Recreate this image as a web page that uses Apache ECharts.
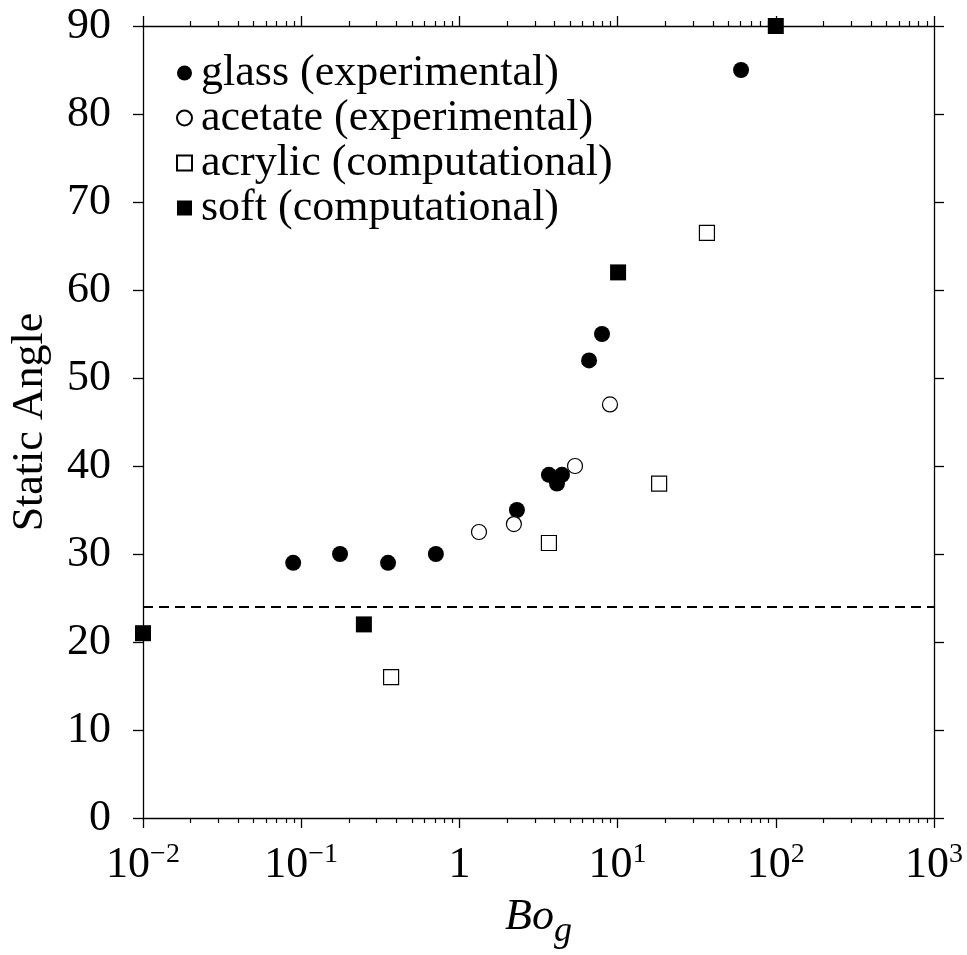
<!DOCTYPE html>
<html>
<head>
<meta charset="utf-8">
<title>Static Angle vs Bo_g</title>
<script src="https://cdn.jsdelivr.net/npm/echarts@6/dist/echarts.min.js"></script>
<style>
  html, body { margin: 0; padding: 0; background: #fff; }
  #chart { width: 967px; height: 955px; }
</style>
</head>
<body>
<div id="chart"></div>
<script>
// data
var glassBo = [0.089, 0.176, 0.354, 0.71, 2.31, 3.68, 4.14, 4.45, 6.6, 7.97, 60.3];
var glassAngle = [29, 30, 29, 30, 35, 39, 38, 39, 52, 55, 85];

var acetateBo = [1.33, 2.21, 5.38, 8.95];
var acetateAngle = [32.5, 33.4, 40, 47];

var acrylicBo = [0.37, 3.68, 18.3, 36.7];
var acrylicAngle = [16, 31.25, 38, 66.5];

var softBo = [0.01, 0.249, 10.07, 100];
var softAngle = [21, 22, 62, 90];

var refAngle = 24; // dashed line

var seriesNames = ['glass (experimental)', 'acetate (experimental)', 'acrylic (computational)', 'soft (computational)'];

var FONT = '"Liberation Serif", "Times New Roman", serif';

// minor ticks 2..9 of every decade (in log10 units)
var minorTicks = [];
for (var d = -2; d < 3; d++) {
  for (var k = 2; k <= 9; k++) minorTicks.push(Math.log10(k) + d);
}

function pairs(xs, ys) {
  var out = [];
  for (var i = 0; i < xs.length; i++) out.push([xs[i], ys[i]]);
  return out;
}

var black = '#000';
var axisLine = { show: true, onZero: false, lineStyle: { color: black, width: 1.3 } };
var noLine = { show: false, onZero: false };

var chart = echarts.init(document.getElementById('chart'));

var option = {
  animation: false,
  backgroundColor: '#fff',
  grid: { left: 143, right: 33, top: 26, bottom: 137 },
  legend: {
    orient: 'vertical',
    left: 171,
    top: 46,
    itemWidth: 15,
    itemHeight: 15,
    itemGap: 1,
    selectedMode: false,
    textStyle: { fontFamily: FONT, fontSize: 44, lineHeight: 44, color: black, padding: [0, 0, 0, 4] },
    data: [
      { name: seriesNames[0], icon: 'circle' },
      { name: seriesNames[1], icon: 'circle' },
      { name: seriesNames[2], icon: 'rect' },
      { name: seriesNames[3], icon: 'rect' }
    ]
  },
  xAxis: [
    {
      type: 'log', logBase: 10, min: 0.01, max: 1000, interval: 1,
      position: 'bottom',
      name: '{b|Bo}{g|g}',
      nameLocation: 'middle',
      nameGap: 77,
      nameTextStyle: {
        rich: {
          b: { fontFamily: FONT, fontStyle: 'italic', fontSize: 44, lineHeight: 44, verticalAlign: 'top', color: black },
          g: { fontFamily: FONT, fontStyle: 'italic', fontSize: 36, lineHeight: 36, verticalAlign: 'top', padding: [19, 0, 0, 0], color: black }
        }
      },
      axisLine: axisLine,
      axisTick: { show: true, inside: false, length: 10, lineStyle: { color: black, width: 1.3 } },
      splitLine: { show: false },
      axisLabel: {
        margin: 23,
        formatter: function (v) {
          var e = Math.round(Math.log10(v));
          if (e === 0) return '{n|1}';
          return '{n|10}{s|' + (e < 0 ? '\u2212' + (-e) : e) + '}';
        },
        rich: {
          n: { fontFamily: FONT, fontSize: 44, lineHeight: 44, verticalAlign: 'top', padding: [2, 0, 0, 0], color: black },
          s: { fontFamily: FONT, fontSize: 28, lineHeight: 28, verticalAlign: 'top', color: black }
        }
      }
    },
    {
      type: 'value', min: -2, max: 3,
      position: 'bottom',
      axisLine: noLine,
      axisTick: { show: true, inside: false, length: 5, customValues: minorTicks, lineStyle: { color: black, width: 1.2 } },
      axisLabel: { show: false },
      splitLine: { show: false }
    },
    {
      type: 'log', logBase: 10, min: 0.01, max: 1000, interval: 1,
      position: 'top',
      axisLine: axisLine,
      axisTick: { show: true, inside: false, length: 10, lineStyle: { color: black, width: 1.3 } },
      axisLabel: { show: false },
      splitLine: { show: false }
    },
    {
      type: 'value', min: -2, max: 3,
      position: 'top',
      axisLine: noLine,
      axisTick: { show: true, inside: false, length: 5, customValues: minorTicks, lineStyle: { color: black, width: 1.2 } },
      axisLabel: { show: false },
      splitLine: { show: false }
    }
  ],
  yAxis: [
    {
      type: 'value', min: 0, max: 90, interval: 10,
      position: 'left',
      name: 'Static Angle',
      nameLocation: 'middle',
      nameGap: 91,
      nameTextStyle: { fontFamily: FONT, fontSize: 44, lineHeight: 44, color: black },
      axisLine: axisLine,
      axisTick: { show: true, inside: false, length: 10, lineStyle: { color: black, width: 1.3 } },
      axisLabel: { margin: 32, fontFamily: FONT, fontSize: 44, color: black },
      splitLine: { show: false }
    },
    {
      type: 'value', min: 0, max: 90, interval: 10,
      position: 'right',
      axisLine: axisLine,
      axisTick: { show: true, inside: false, length: 10, lineStyle: { color: black, width: 1.3 } },
      axisLabel: { show: false },
      splitLine: { show: false }
    }
  ],
  series: [
    {
      name: seriesNames[0], type: 'scatter', xAxisIndex: 0, yAxisIndex: 0,
      symbol: 'circle', symbolSize: 16, clip: false,
      itemStyle: { color: black, opacity: 1 },
      data: pairs(glassBo, glassAngle),
      markLine: {
        silent: true, symbol: 'none', label: { show: false },
        lineStyle: { color: black, width: 1.8, type: [10, 6], opacity: 1 },
        data: [{ yAxis: refAngle }]
      }
    },
    {
      name: seriesNames[1], type: 'scatter', xAxisIndex: 0, yAxisIndex: 0,
      symbol: 'circle', symbolSize: 15, clip: false,
      itemStyle: { color: '#fff', borderColor: black, borderWidth: 1.2, opacity: 1 },
      data: pairs(acetateBo, acetateAngle)
    },
    {
      name: seriesNames[2], type: 'scatter', xAxisIndex: 0, yAxisIndex: 0,
      symbol: 'rect', symbolSize: 15, clip: false,
      itemStyle: { color: '#fff', borderColor: black, borderWidth: 1.2, opacity: 1 },
      data: pairs(acrylicBo, acrylicAngle)
    },
    {
      name: seriesNames[3], type: 'scatter', xAxisIndex: 0, yAxisIndex: 0,
      symbol: 'rect', symbolSize: 16, clip: false,
      itemStyle: { color: black, opacity: 1 },
      data: pairs(softBo, softAngle)
    }
  ]
};

chart.setOption(option);
</script>
</body>
</html>
